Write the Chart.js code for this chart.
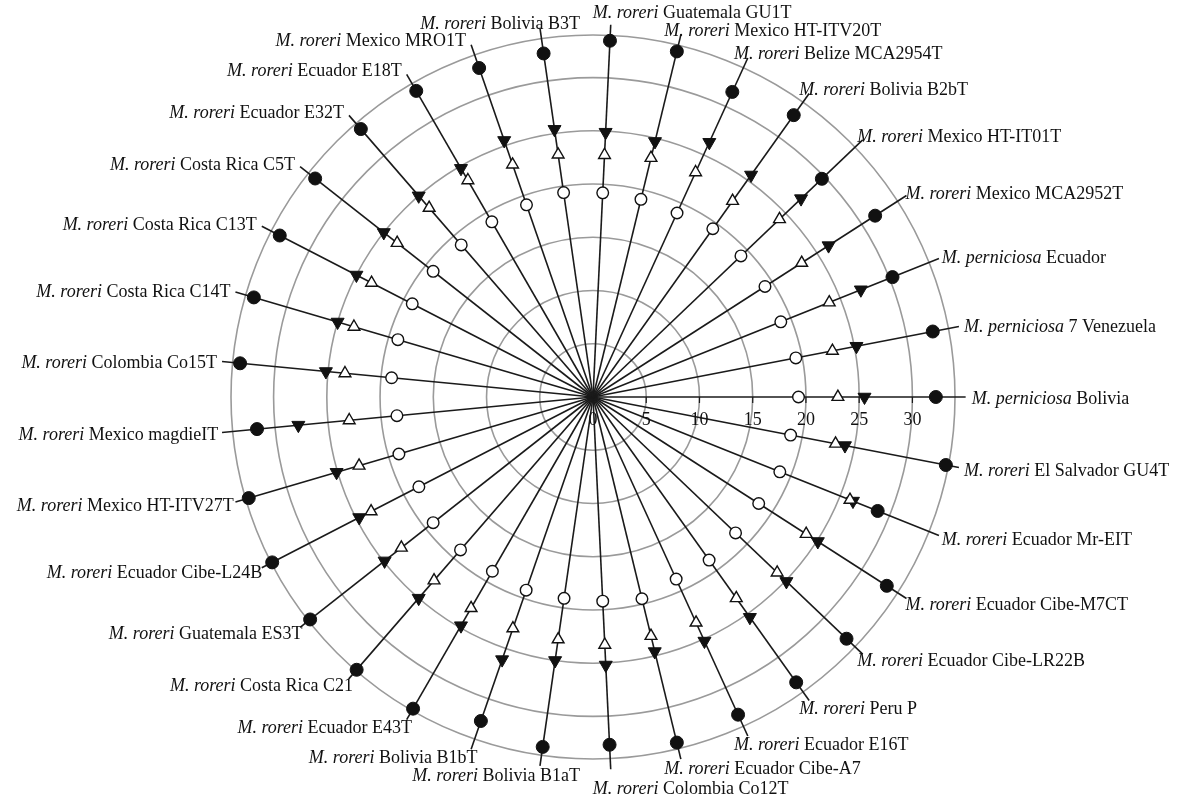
<!DOCTYPE html>
<html>
<head>
<meta charset="utf-8">
<script src="https://cdn.jsdelivr.net/npm/chart.js@4.4.1/dist/chart.umd.min.js"></script>
<style>
  html, body { margin: 0; padding: 0; background: #fff; }
  #wrap { width: 1178px; height: 797px; position: relative; }
</style>
</head>
<body>
<div id="wrap"><canvas id="chart"></canvas></div>
<script>
// Strains, clockwise from the spoke at the top
const species = [
  'M. roreri', 'M. roreri', 'M. roreri', 'M. roreri', 'M. roreri', 'M. roreri',
  'M. perniciosa', 'M. perniciosa', 'M. perniciosa',
  'M. roreri', 'M. roreri', 'M. roreri', 'M. roreri', 'M. roreri', 'M. roreri',
  'M. roreri', 'M. roreri', 'M. roreri', 'M. roreri', 'M. roreri', 'M. roreri',
  'M. roreri', 'M. roreri', 'M. roreri', 'M. roreri', 'M. roreri', 'M. roreri',
  'M. roreri', 'M. roreri', 'M. roreri', 'M. roreri', 'M. roreri', 'M. roreri',
];
const strains = [
  'Guatemala GU1T', 'Mexico HT-ITV20T', 'Belize MCA2954T', 'Bolivia B2bT',
  'Mexico HT-IT01T', 'Mexico MCA2952T', 'Ecuador', '7 Venezuela', 'Bolivia',
  'El Salvador GU4T', 'Ecuador Mr-EIT', 'Ecuador Cibe-M7CT', 'Ecuador Cibe-LR22B',
  'Peru P', 'Ecuador E16T', 'Ecuador Cibe-A7', 'Colombia Co12T', 'Bolivia B1aT',
  'Bolivia B1bT', 'Ecuador E43T', 'Costa Rica C21', 'Guatemala ES3T',
  'Ecuador Cibe-L24B', 'Mexico HT-ITV27T', 'Mexico magdieIT', 'Colombia Co15T',
  'Costa Rica C14T', 'Costa Rica C13T', 'Costa Rica C5T', 'Ecuador E32T',
  'Ecuador E18T', 'Mexico MRO1T', 'Bolivia B3T',
];

// Series values (one per strain)
const filledCircle = [
  33.5, 33.4, 31.5, 32.5, 29.7, 31.5, 30.3, 32.5, 32.2, 33.75, 28.8,
  32.8, 32.9, 32.9, 32.8, 33.4, 32.7, 33.2, 32.2, 33.8, 33.9, 33.8,
  33.9, 33.7, 31.7, 33.3, 33.2, 33.1, 33.2, 33.3, 33.2, 32.7, 32.6,
];
const filledTriangle = [
  24.9, 24.7, 26.3, 25.6, 27.0, 26.3, 27.1, 25.2, 25.5, 24.1, 26.3,
  25.1, 25.1, 25.4, 25.2, 24.6, 25.2, 25.0, 26.1, 24.8, 25.0, 24.9,
  24.7, 25.1, 27.8, 25.2, 25.0, 25.0, 25.0, 25.0, 24.8, 25.5, 25.4,
];
const openTriangle = [
  22.75, 23.1, 23.2, 22.6, 24.2, 23.3, 23.9, 22.9, 23.0, 23.2, 26.0,
  23.8, 23.9, 23.2, 23.3, 23.1, 23.3, 23.0, 23.0, 22.9, 22.8, 22.9,
  23.45, 22.9, 23.0, 23.4, 23.4, 23.4, 23.4, 23.5, 23.5, 23.1, 23.0,
];
const openCircle = [
  19.2, 19.1, 19.0, 19.4, 19.2, 19.2, 19.0, 19.4, 19.3, 18.9, 18.9,
  18.5, 18.5, 18.8, 18.8, 19.5, 19.2, 19.1, 19.2, 18.9, 19.0, 19.1,
  18.4, 19.0, 18.5, 19.0, 19.1, 19.1, 19.1, 18.9, 19.0, 19.1, 19.4,
];

// Scale
const ringValues = [0, 5, 10, 15, 20, 25, 30, 34];
const tickValues = [0, 5, 10, 15, 20, 25, 30];
const SCALE_MAX = 34;
const SPOKE_END = 35;
const AXIS_SPOKE = strains.indexOf('Bolivia', 6); // horizontal axis carries the ticks

const SERIF = '"Liberation Serif", "Times New Roman", serif';

// ─── Plugin: spokes, axis ticks, strain labels ───────────────────────────────
const spokesPlugin = {
  id: 'spokes',
  beforeDatasetsDraw(chart) {
    const r = chart.scales.r;
    const ctx = chart.ctx;
    ctx.save();
    ctx.strokeStyle = '#1a1a1a';
    ctx.lineWidth = 1.6;
    strains.forEach((s, i) => {
      const end = r.getPointPositionForValue(i, SPOKE_END);
      ctx.beginPath();
      ctx.moveTo(r.xCenter, r.yCenter);
      ctx.lineTo(end.x, end.y);
      ctx.stroke();
    });
    // small tick marks under the horizontal axis
    ctx.lineWidth = 1.2;
    tickValues.forEach(v => {
      if (v === 0) return;
      const p = r.getPointPositionForValue(AXIS_SPOKE, v);
      ctx.beginPath();
      ctx.moveTo(p.x, p.y);
      ctx.lineTo(p.x, p.y + 6);
      ctx.stroke();
    });
    ctx.restore();
  },
  afterDraw(chart) {
    const r = chart.scales.r;
    const ctx = chart.ctx;
    ctx.save();
    ctx.fillStyle = '#111';
    ctx.textBaseline = 'middle';

    // tick labels
    ctx.font = '18px ' + SERIF;
    ctx.textAlign = 'center';
    tickValues.forEach(v => {
      const p = r.getPointPositionForValue(AXIS_SPOKE, v);
      ctx.fillText(String(v), p.x, p.y + 23);
    });

    // strain labels: italic species + roman strain name
    ctx.textAlign = 'left';
    strains.forEach((s, i) => {
      const end = r.getPointPositionForValue(i, SPOKE_END);
      const a = r.getIndexAngle(i);
      const sin = Math.sin(a), cos = Math.cos(a);
      const sp = species[i];
      const rest = ' ' + s;
      ctx.font = 'italic 18px ' + SERIF;
      const w1 = ctx.measureText(sp).width;
      ctx.font = '18px ' + SERIF;
      const w2 = ctx.measureText(rest).width;
      let y = end.y - (cos > 0 ? 6 : 8) * cos + 2;
      if (Math.abs(sin) < 0.1) y = end.y - 12 * cos + (cos < 0 ? 8 : 0);
      let x;
      if (sin > 0.02) {
        x = end.x + 6 - 24 * cos * cos;
      } else {
        let right = end.x - 5 + 12 * Math.max(0, -cos);
        if (Math.abs(sin) < 0.2) right = end.x + 40;
        x = right - w1 - w2;
      }
      ctx.font = 'italic 18px ' + SERIF;
      ctx.fillText(sp, x, y);
      ctx.font = '18px ' + SERIF;
      ctx.fillText(rest, x + w1, y);
    });
    ctx.restore();
  },
};

// ─── Chart ───────────────────────────────────────────────────────────────────
const markerBase = { showLine: false, fill: false, borderWidth: 0, pointHoverRadius: 0 };

new Chart(document.getElementById('chart'), {
  type: 'radar',
  data: {
    labels: strains.map((s, i) => species[i] + ' ' + s),
    datasets: [
      { ...markerBase, label: 'filled circle', data: filledCircle, pointStyle: 'circle', pointRadius: 6.5,
        pointBackgroundColor: '#111', pointBorderColor: '#111', pointBorderWidth: 1, order: 4 },
      { ...markerBase, label: 'filled triangle', data: filledTriangle, pointStyle: 'triangle', pointRadius: 7.5,
        pointRotation: 180, pointBackgroundColor: '#111', pointBorderColor: '#111', pointBorderWidth: 1, order: 3 },
      { ...markerBase, label: 'open triangle', data: openTriangle, pointStyle: 'triangle', pointRadius: 6.8,
        pointBackgroundColor: '#fff', pointBorderColor: '#111', pointBorderWidth: 1.4, order: 2 },
      { ...markerBase, label: 'open circle', data: openCircle, pointStyle: 'circle', pointRadius: 5.8,
        pointBackgroundColor: '#fff', pointBorderColor: '#111', pointBorderWidth: 1.4, order: 1 },
    ],
  },
  options: {
    responsive: true,
    maintainAspectRatio: false,
    devicePixelRatio: 1,
    animation: false,
    layout: { padding: { left: 231, right: 223, top: 35, bottom: 38 } },
    plugins: { legend: { display: false }, tooltip: { enabled: false } },
    scales: {
      r: {
        min: 0,
        max: SCALE_MAX,
        startAngle: 90 - AXIS_SPOKE * 360 / strains.length,
        afterBuildTicks: (scale) => { scale.ticks = ringValues.map(v => ({ value: v })); },
        ticks: { display: false },
        grid: { circular: true, color: '#9a9a9a', lineWidth: 1.6 },
        angleLines: { display: false },
        pointLabels: { display: false },
      },
    },
  },
  plugins: [spokesPlugin],
});
</script>
</body>
</html>
